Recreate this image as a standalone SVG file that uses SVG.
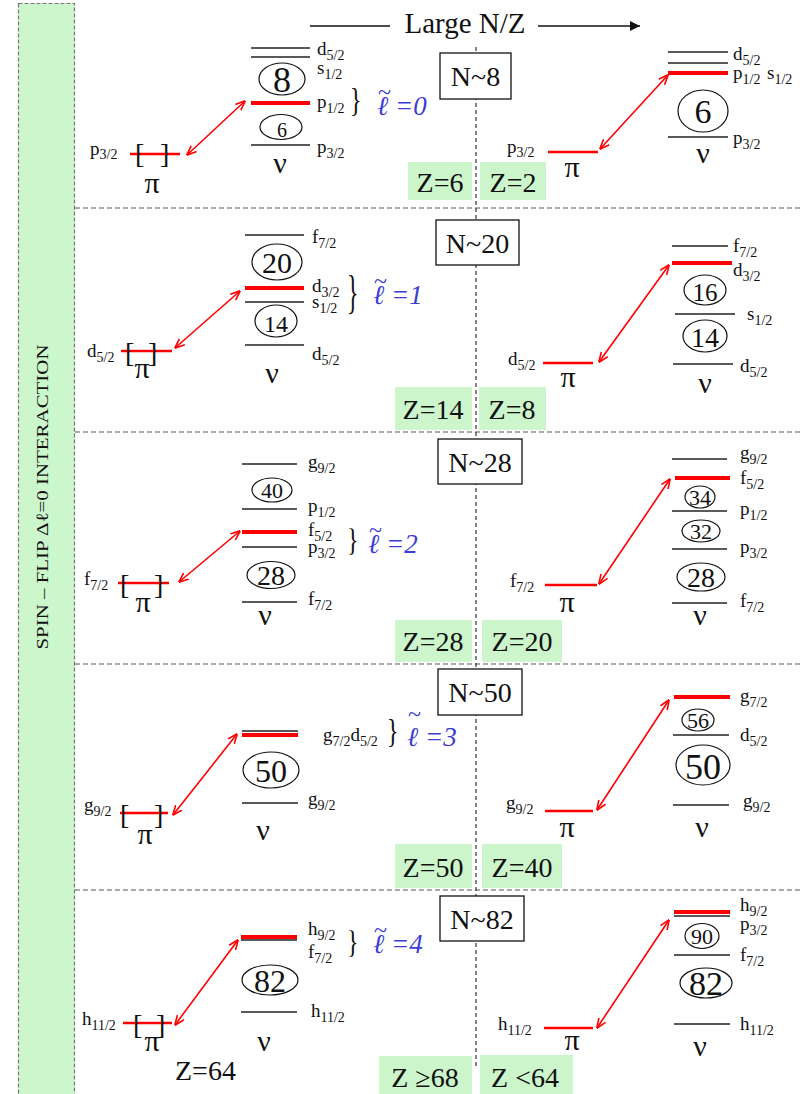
<svg xmlns="http://www.w3.org/2000/svg" width="800" height="1094" viewBox="0 0 800 1094" font-family="'Liberation Serif', 'DejaVu Serif', serif">
<style>
text{font-family:"Liberation Serif","DejaVu Serif",serif;fill:#111}
.lb{font-size:19px}
.sb{font-size:14px}
.gr{font-size:30px;text-anchor:middle}
.nb{text-anchor:middle}
.zt{font-size:28px;text-anchor:middle}
.bk{font-size:28px}
.br{font-size:24px}
.lt{font-style:italic;fill:#3c3cd4;font-size:27px}
.tl{fill:#3c3cd4;font-size:24px}
.lv{stroke:#222;stroke-width:1.4}
.rn{stroke:#f00;stroke-width:4}
.rp{stroke:#f00;stroke-width:2.4}
.el{fill:none;stroke:#111;stroke-width:1.2}
.box{fill:#fff;stroke:#111;stroke-width:1.3}
.zb{fill:#ccf5cc}
.dh{stroke:#555;stroke-width:1.2;stroke-dasharray:5 3;fill:none}
.ar{stroke:#f00;stroke-width:1.6;fill:none;marker-start:url(#ah);marker-end:url(#ah)}
</style>
<defs>
<marker id="ah" viewBox="0 0 10 10" refX="9.5" refY="5" markerWidth="10" markerHeight="10" markerUnits="userSpaceOnUse" orient="auto-start-reverse"><path d="M0,1 L10,5 L0,9" fill="none" stroke="#f00" stroke-width="1.6"/></marker>
<marker id="th" viewBox="0 0 10 10" refX="10" refY="5" markerWidth="12" markerHeight="10" markerUnits="userSpaceOnUse" orient="auto"><path d="M0,0 L10,5 L0,10 z" fill="#111"/></marker>
</defs>
<rect width="800" height="1094" fill="#fff"/>

<g id="sidebar">
<rect x="18.5" y="3.5" width="56" height="1095" fill="#ccf7cc" stroke="#777" stroke-width="1.2" stroke-dasharray="4 2"/>
<text transform="translate(48,497) rotate(-90)" text-anchor="middle" font-size="17" textLength="305" lengthAdjust="spacingAndGlyphs">SPIN – FLIP Δℓ=0  INTERACTION</text>
</g>

<g id="grid">
<line class="dh" x1="75" y1="208" x2="800" y2="208"/>
<line class="dh" x1="75" y1="432" x2="800" y2="432"/>
<line class="dh" x1="75" y1="664" x2="800" y2="664"/>
<line class="dh" x1="75" y1="890" x2="800" y2="890"/>
<line x1="476" y1="47" x2="476" y2="1066" stroke="#333" stroke-width="1.2" stroke-dasharray="4 3"/>
</g>

<g id="title">
<line x1="310" y1="26" x2="390" y2="26" stroke="#111" stroke-width="1.3"/>
<text x="465" y="33" font-size="29" text-anchor="middle">Large N/Z</text>
<line x1="538" y1="26" x2="640" y2="26" stroke="#111" stroke-width="1.3" marker-end="url(#th)"/>
</g>

<g id="zboxes">
<rect class="zb" x="408" y="162" width="64" height="38"/><text class="zt" x="440" y="192">Z=6</text>
<rect class="zb" x="480" y="162" width="66" height="38"/><text class="zt" x="513" y="192">Z=2</text>
<rect class="zb" x="395" y="387" width="77" height="43"/><text class="zt" x="433" y="419">Z=14</text>
<rect class="zb" x="479" y="387" width="67" height="43"/><text class="zt" x="512" y="419">Z=8</text>
<rect class="zb" x="395" y="620" width="77" height="42"/><text class="zt" x="433" y="651">Z=28</text>
<rect class="zb" x="482" y="620" width="80" height="42"/><text class="zt" x="522" y="651">Z=20</text>
<rect class="zb" x="395" y="844" width="77" height="44"/><text class="zt" x="433" y="877">Z=50</text>
<rect class="zb" x="482" y="844" width="80" height="44"/><text class="zt" x="522" y="877">Z=40</text>
<rect class="zb" x="379" y="1056" width="93" height="38"/><text class="zt" x="425" y="1087">Z ≥68</text>
<rect class="zb" x="480" y="1055" width="93" height="39"/><text class="zt" x="525" y="1087">Z &lt;64</text>
<text x="175" y="1080" font-size="28">Z=64</text>
</g>

<g id="n8"><rect class="box" x="440" y="53" width="71" height="46"/><text class="nb" x="475.5" y="86" font-size="28">N~8</text></g>
<g id="n20"><rect class="box" x="436" y="220" width="83" height="45"/><text class="nb" x="477.5" y="253" font-size="28">N~20</text></g>
<g id="n28"><rect class="box" x="438" y="439" width="84" height="45"/><text class="nb" x="480" y="472" font-size="28">N~28</text></g>
<g id="n50"><rect class="box" x="438" y="669" width="84" height="46"/><text class="nb" x="480" y="702" font-size="28">N~50</text></g>
<g id="n82"><rect class="box" x="440" y="896" width="84" height="45"/><text class="nb" x="482" y="929" font-size="28">N~82</text></g>

<!-- Panel 1 -->
<g id="p1-proton-left">
<line class="rp" x1="130" y1="154" x2="180" y2="154"/>
<text class="bk" x="135" y="163">[</text><text class="bk" x="160" y="163">]</text>
<text class="lb" x="90" y="155">p<tspan class="sb" dy="4">3/2</tspan></text>
<text class="gr" x="152" y="193">π</text>
</g>
<g id="p1-neutron-left">
<line class="lv" x1="251" y1="48" x2="310" y2="48"/>
<line class="lv" x1="251" y1="57" x2="310" y2="57"/>
<line class="rn" x1="251" y1="103" x2="310" y2="103"/>
<line class="lv" x1="251" y1="145" x2="310" y2="145"/>
<ellipse class="el" cx="282" cy="79" rx="23" ry="16"/><text class="nb" x="282" y="92" font-size="36">8</text>
<ellipse class="el" cx="281" cy="127" rx="21" ry="12.5"/><text class="nb" x="282" y="137" font-size="20">6</text>
<text class="lb" x="317" y="55">d<tspan class="sb" dy="5">5/2</tspan></text>
<text class="lb" x="317" y="74">s<tspan class="sb" dy="5">1/2</tspan></text>
<text class="lb" x="317" y="108">p<tspan class="sb" dy="5">1/2</tspan></text>
<text class="lb" x="317" y="153">p<tspan class="sb" dy="5">3/2</tspan></text>
<text class="gr" x="280" y="173">ν</text>
<text class="br" transform="translate(350,111.3) scale(1,1.39)">}</text>
<text class="tl" x="378" y="100">~</text>
<text class="lt" x="377" y="115">ℓ =0</text>
</g>
<g id="p1-proton-right">
<line class="rp" x1="548" y1="152" x2="598" y2="152"/>
<text class="lb" x="507" y="153">p<tspan class="sb" dy="4">3/2</tspan></text>
<text class="gr" x="572" y="177">π</text>
</g>
<g id="p1-neutron-right">
<line class="lv" x1="668" y1="52" x2="728" y2="52"/>
<line class="lv" x1="668" y1="63" x2="728" y2="63"/>
<line class="rn" x1="668" y1="73" x2="728" y2="73"/>
<line class="lv" x1="668" y1="137" x2="728" y2="137"/>
<ellipse class="el" cx="703" cy="111" rx="25" ry="21"/><text class="nb" x="703" y="123" font-size="34">6</text>
<text class="lb" x="733" y="60">d<tspan class="sb" dy="5">5/2</tspan></text>
<text class="lb" x="733" y="79">p<tspan class="sb" dy="5">1/2</tspan></text>
<text class="lb" x="767" y="79">s<tspan class="sb" dy="5">1/2</tspan></text>
<text class="lb" x="733" y="144">p<tspan class="sb" dy="5">3/2</tspan></text>
<text class="gr" x="703" y="163">ν</text>
</g>

<!-- Panel 2 -->
<g id="p2-proton-left">
<line class="rp" x1="121" y1="351" x2="172" y2="351"/>
<text class="bk" x="125" y="362">[</text><text class="bk" x="148" y="362">]</text>
<text class="lb" x="87" y="357">d<tspan class="sb" dy="5">5/2</tspan></text>
<text class="gr" x="142" y="378">π</text>
</g>
<g id="p2-neutron-left">
<line class="lv" x1="245" y1="235" x2="304" y2="235"/>
<line class="rn" x1="245" y1="288" x2="304" y2="288"/>
<line class="lv" x1="245" y1="302" x2="304" y2="302"/>
<line class="lv" x1="245" y1="345" x2="304" y2="345"/>
<ellipse class="el" cx="277" cy="262" rx="25" ry="18"/><text class="nb" x="277" y="273" font-size="30">20</text>
<ellipse class="el" cx="276" cy="321" rx="21" ry="16"/><text class="nb" x="276" y="332" font-size="24">14</text>
<text class="lb" x="312" y="243">f<tspan class="sb" dy="5">7/2</tspan></text>
<text class="lb" x="312" y="292">d<tspan class="sb" dy="5">3/2</tspan></text>
<text class="lb" x="312" y="308">s<tspan class="sb" dy="5">1/2</tspan></text>
<text class="lb" x="312" y="360">d<tspan class="sb" dy="5">5/2</tspan></text>
<text class="gr" x="272" y="383">ν</text>
<text class="br" transform="translate(347,307.7) scale(1,1.944)">}</text>
<text class="tl" x="374" y="289">~</text>
<text class="lt" x="373" y="304">ℓ =1</text>
</g>
<g id="p2-proton-right">
<line class="rp" x1="543" y1="363" x2="593" y2="363"/>
<text class="lb" x="508" y="365">d<tspan class="sb" dy="5">5/2</tspan></text>
<text class="gr" x="568" y="387">π</text>
</g>
<g id="p2-neutron-right">
<line class="lv" x1="672" y1="246" x2="728" y2="246"/>
<line class="rn" x1="672" y1="263" x2="732" y2="263"/>
<line class="lv" x1="675" y1="314" x2="735" y2="314"/>
<line class="lv" x1="673" y1="364" x2="733" y2="364"/>
<ellipse class="el" cx="705" cy="290" rx="21" ry="15"/><text class="nb" x="705" y="301" font-size="25">16</text>
<ellipse class="el" cx="705" cy="336" rx="22" ry="16"/><text class="nb" x="705" y="347" font-size="28">14</text>
<text class="lb" x="733" y="252">f<tspan class="sb" dy="5">7/2</tspan></text>
<text class="lb" x="733" y="276">d<tspan class="sb" dy="5">3/2</tspan></text>
<text class="lb" x="747" y="320">s<tspan class="sb" dy="5">1/2</tspan></text>
<text class="lb" x="740" y="372">d<tspan class="sb" dy="5">5/2</tspan></text>
<text class="gr" x="705" y="393">ν</text>
</g>

<!-- Panel 3 -->
<g id="p3-proton-left">
<line class="rp" x1="118" y1="583" x2="169" y2="583"/>
<text class="bk" x="120" y="594">[</text><text class="bk" x="154" y="594">]</text>
<text class="lb" x="84" y="585">f<tspan class="sb" dy="5">7/2</tspan></text>
<text class="gr" x="143" y="612">π</text>
</g>
<g id="p3-neutron-left">
<line class="lv" x1="242" y1="464" x2="297" y2="464"/>
<line class="lv" x1="242" y1="509" x2="297" y2="509"/>
<line class="rn" x1="242" y1="532" x2="297" y2="532"/>
<line class="lv" x1="242" y1="547" x2="297" y2="547"/>
<line class="lv" x1="242" y1="602" x2="297" y2="602"/>
<ellipse class="el" cx="272" cy="490" rx="20" ry="12"/><text class="nb" x="272" y="498" font-size="22">40</text>
<ellipse class="el" cx="271" cy="575" rx="24" ry="13.5"/><text class="nb" x="271" y="585" font-size="28">28</text>
<text class="lb" x="308" y="468">g<tspan class="sb" dy="5">9/2</tspan></text>
<text class="lb" x="308" y="512">p<tspan class="sb" dy="5">1/2</tspan></text>
<text class="lb" x="308" y="536">f<tspan class="sb" dy="5">5/2</tspan></text>
<text class="lb" x="308" y="553">p<tspan class="sb" dy="5">3/2</tspan></text>
<text class="lb" x="308" y="605">f<tspan class="sb" dy="5">7/2</tspan></text>
<text class="gr" x="265" y="625">ν</text>
<text class="br" transform="translate(347,550.6) scale(1,1.343)">}</text>
<text class="tl" x="369" y="538">~</text>
<text class="lt" x="368" y="553">ℓ =2</text>
</g>
<g id="p3-proton-right">
<line class="rp" x1="545" y1="585" x2="597" y2="585"/>
<text class="lb" x="510" y="587">f<tspan class="sb" dy="5">7/2</tspan></text>
<text class="gr" x="567" y="612">π</text>
</g>
<g id="p3-neutron-right">
<line class="lv" x1="672" y1="459" x2="727" y2="459"/>
<line class="rn" x1="675" y1="478" x2="730" y2="478"/>
<line class="lv" x1="672" y1="511" x2="727" y2="511"/>
<line class="lv" x1="672" y1="549" x2="727" y2="549"/>
<line class="lv" x1="672" y1="603" x2="727" y2="603"/>
<ellipse class="el" cx="700" cy="497" rx="15" ry="11"/><text class="nb" x="700" y="505" font-size="22">34</text>
<ellipse class="el" cx="701" cy="531" rx="19" ry="11"/><text class="nb" x="701" y="539" font-size="22">32</text>
<ellipse class="el" cx="701" cy="577" rx="24" ry="14"/><text class="nb" x="701" y="587" font-size="28">28</text>
<text class="lb" x="740" y="459">g<tspan class="sb" dy="5">9/2</tspan></text>
<text class="lb" x="740" y="484">f<tspan class="sb" dy="5">5/2</tspan></text>
<text class="lb" x="740" y="515">p<tspan class="sb" dy="5">1/2</tspan></text>
<text class="lb" x="740" y="553">p<tspan class="sb" dy="5">3/2</tspan></text>
<text class="lb" x="740" y="607">f<tspan class="sb" dy="5">7/2</tspan></text>
<text class="gr" x="700" y="625">ν</text>
</g>

<!-- Panel 4 -->
<g id="p4-proton-left">
<line class="rp" x1="120" y1="813" x2="168" y2="813"/>
<text class="bk" x="120" y="824">[</text><text class="bk" x="154" y="824">]</text>
<text class="lb" x="84" y="811">g<tspan class="sb" dy="5">9/2</tspan></text>
<text class="gr" x="145" y="844">π</text>
</g>
<g id="p4-neutron-left">
<line class="lv" x1="242" y1="731" x2="298" y2="731"/>
<line class="rn" x1="242" y1="735" x2="298" y2="735"/>
<line class="lv" x1="242" y1="803" x2="298" y2="803"/>
<ellipse class="el" cx="271" cy="770" rx="28" ry="18"/><text class="nb" x="271" y="782" font-size="32">50</text>
<text class="lb" x="308" y="805">g<tspan class="sb" dy="5">9/2</tspan></text>
<text class="lb" x="323" y="741">g<tspan class="sb" dy="5">7/2</tspan><tspan dy="-5">d</tspan><tspan class="sb" dy="5">5/2</tspan></text>
<text class="gr" x="263" y="840">ν</text>
<text class="br" transform="translate(387,742.3) scale(1,1.39)">}</text>
<text class="tl" x="408" y="722">~</text>
<text class="lt" x="407" y="746">ℓ =3</text>
</g>
<g id="p4-proton-right">
<line class="rp" x1="545" y1="811" x2="593" y2="811"/>
<text class="lb" x="506" y="809">g<tspan class="sb" dy="5">9/2</tspan></text>
<text class="gr" x="567" y="837">π</text>
</g>
<g id="p4-neutron-right">
<line class="rn" x1="674" y1="697" x2="730" y2="697"/>
<line class="lv" x1="673" y1="735" x2="729" y2="735"/>
<line class="lv" x1="673" y1="805" x2="729" y2="805"/>
<ellipse class="el" cx="698" cy="720" rx="16" ry="11"/><text class="nb" x="698" y="728" font-size="22">56</text>
<ellipse class="el" cx="703" cy="765" rx="27" ry="20"/><text class="nb" x="703" y="779" font-size="36">50</text>
<text class="lb" x="740" y="702">g<tspan class="sb" dy="5">7/2</tspan></text>
<text class="lb" x="740" y="741">d<tspan class="sb" dy="5">5/2</tspan></text>
<text class="lb" x="743" y="807">g<tspan class="sb" dy="5">9/2</tspan></text>
<text class="gr" x="702" y="837">ν</text>
</g>

<!-- Panel 5 -->
<g id="p5-proton-left">
<line class="rp" x1="123" y1="1023" x2="172" y2="1023"/>
<text class="bk" x="133" y="1034">[</text><text class="bk" x="156" y="1034">]</text>
<text class="lb" x="82" y="1025">h<tspan class="sb" dy="5">11/2</tspan></text>
<text class="gr" x="152" y="1051">π</text>
</g>
<g id="p5-neutron-left">
<line class="rn" x1="241" y1="937" x2="297" y2="937"/>
<line class="lv" x1="241" y1="940" x2="297" y2="940"/>
<line class="lv" x1="241" y1="1012" x2="297" y2="1012"/>
<ellipse class="el" cx="270" cy="980" rx="28" ry="15"/><text class="nb" x="270" y="992" font-size="32">82</text>
<text class="lb" x="308" y="935">h<tspan class="sb" dy="5">9/2</tspan></text>
<text class="lb" x="308" y="958">f<tspan class="sb" dy="5">7/2</tspan></text>
<text class="lb" x="311" y="1017">h<tspan class="sb" dy="5">11/2</tspan></text>
<text class="gr" x="264" y="1051">ν</text>
<text class="br" transform="translate(347,952.6) scale(1,1.343)">}</text>
<text class="tl" x="374" y="938">~</text>
<text class="lt" x="373" y="953">ℓ =4</text>
</g>
<g id="p5-proton-right">
<line class="rp" x1="544" y1="1028" x2="593" y2="1028"/>
<text class="lb" x="498" y="1030">h<tspan class="sb" dy="5">11/2</tspan></text>
<text class="gr" x="572" y="1050">π</text>
</g>
<g id="p5-neutron-right">
<line class="rn" x1="674" y1="912" x2="730" y2="912"/>
<line class="lv" x1="674" y1="916" x2="730" y2="916"/>
<line class="lv" x1="674" y1="955" x2="730" y2="955"/>
<line class="lv" x1="674" y1="1024" x2="730" y2="1024"/>
<ellipse class="el" cx="702" cy="936" rx="17" ry="12.5"/><text class="nb" x="702" y="944" font-size="22">90</text>
<ellipse class="el" cx="706" cy="983" rx="26" ry="15"/><text class="nb" x="706" y="995" font-size="34">82</text>
<text class="lb" x="740" y="911">h<tspan class="sb" dy="5">9/2</tspan></text>
<text class="lb" x="740" y="930">p<tspan class="sb" dy="5">3/2</tspan></text>
<text class="lb" x="740" y="961">f<tspan class="sb" dy="5">7/2</tspan></text>
<text class="lb" x="740" y="1030">h<tspan class="sb" dy="5">11/2</tspan></text>
<text class="gr" x="700" y="1056">ν</text>
</g>

<g id="connectors">
<line class="ar" x1="187" y1="155" x2="245" y2="101"/>
<line class="ar" x1="600" y1="149" x2="668" y2="75"/>
<line class="ar" x1="175" y1="348" x2="240" y2="291"/>
<line class="ar" x1="599" y1="362" x2="669" y2="265"/>
<line class="ar" x1="179" y1="582" x2="240" y2="531"/>
<line class="ar" x1="599" y1="584" x2="670" y2="479"/>
<line class="ar" x1="173" y1="815" x2="237" y2="734"/>
<line class="ar" x1="597" y1="810" x2="669" y2="700"/>
<line class="ar" x1="175" y1="1025" x2="238" y2="940"/>
<line class="ar" x1="597" y1="1028" x2="669" y2="920"/>
</g>
</svg>
